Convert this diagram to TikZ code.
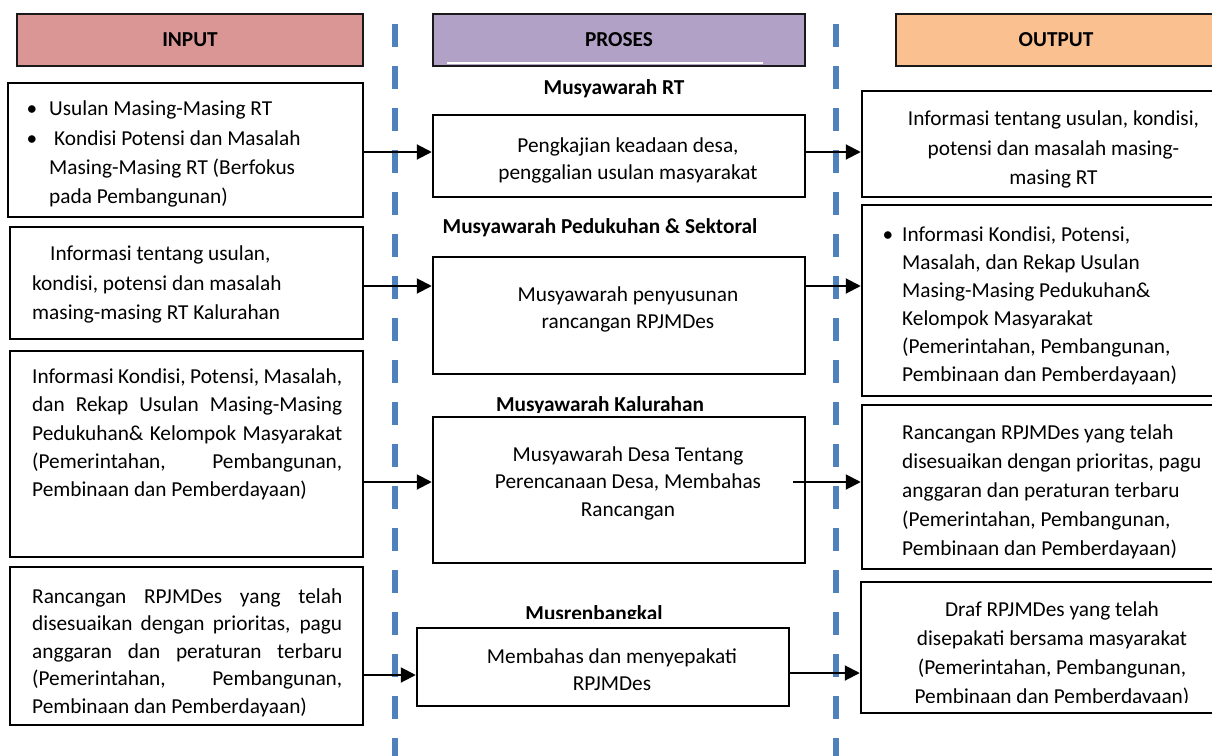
\documentclass[tikz,border=0pt]{standalone}
\usepackage{fontspec}
\setmainfont{Carlito}
\usetikzlibrary{arrows.meta}
\definecolor{inpc}{HTML}{D99694}
\definecolor{proc}{HTML}{B2A1C7}
\definecolor{outc}{HTML}{FAC090}
\definecolor{dashc}{HTML}{4F81BD}
\begin{document}
\begin{tikzpicture}[x=1pt,y=-1pt,
  box/.style={draw=black, line width=2.5pt, fill=white, inner sep=0pt, rectangle},
  hdr/.style={draw=black!90, line width=2.5pt, inner sep=0pt, rectangle, font=\fontsize{21.3}{25}\selectfont\bfseries},
  txt/.style={inner sep=0pt, yshift=-6.5pt, font=\fontsize{21.3}{#1}\selectfont, execute at begin node=\strut},
  lbl/.style={inner sep=0pt, anchor=base, font=\fontsize{21.3}{25}\selectfont\bfseries},
  conn/.style={line width=2pt, -{Triangle[length=15pt,width=15pt]}},
  sepline/.style={dashc, line width=6pt, dash pattern=on 23pt off 19pt}
]
\clip (0,0) rectangle (1212,755);
\fill[white] (0,0) rectangle (1212,755);

% dashed separators
\coordinate (s1t) at (395,24);
\coordinate (s1b) at (395,760);
\coordinate (s2t) at (836,24);
\coordinate (s2b) at (836,760);
\draw[sepline] (s1t) -- (s1b);
\draw[sepline] (s2t) -- (s2b);

% headers
\node[hdr, fill=inpc, minimum width=346pt, minimum height=52pt] (hin) at (190,40) {INPUT};
\node[hdr, fill=proc, minimum width=372pt, minimum height=52pt] (hpr) at (619,40) {PROSES};
\node[hdr, fill=outc, minimum width=320pt, minimum height=52pt] (hout) at (1056,40) {OUTPUT};
\coordinate (wl1) at (447,62.5);
\coordinate (wl2) at (763,62.5);
\draw[white, line width=2pt] (wl1) -- (wl2);

% left boxes
\node[box, minimum width=355pt, minimum height=134pt] (L1) at (185.5,150) {};
\node[box, minimum width=353pt, minimum height=112pt] (L2) at (186.5,283) {};
\node[box, minimum width=353pt, minimum height=206pt] (L3) at (186.5,454) {};
\node[box, minimum width=353pt, minimum height=158pt] (L4) at (186.5,646) {};
% middle boxes
\node[box, minimum width=372pt, minimum height=82pt] (M1) at (619,156) {};
\node[box, minimum width=372pt, minimum height=117pt] (M2) at (619,315.5) {};
\node[box, minimum width=372pt, minimum height=146pt] (M3) at (619,490) {};
\node[box, minimum width=372pt, minimum height=78pt] (M4) at (603,667) {};
% right boxes
\node[box, minimum width=354pt, minimum height=106pt] (R1) at (1039,144) {};
\node[box, minimum width=354pt, minimum height=191pt] (R2) at (1039,300.5) {};
\node[box, minimum width=354pt, minimum height=164pt] (R3) at (1039,487) {};
\node[box, minimum width=355pt, minimum height=131pt] (R4) at (1038.5,647.5) {};

% stage labels
\node[lbl] (t1) at (614,94) {Musyawarah RT};
\node[lbl] (t2) at (600,233) {Musyawarah Pedukuhan \& Sektoral};
\begin{scope}
\clip (450,380) rectangle (780,412);
\node[lbl] (t3) at (600,411) {Musyawarah Kalurahan};
\end{scope}
\begin{scope}
\clip (450,590) rectangle (780,618.5);
\node[lbl] (t4) at (594,620) {Musrenbangkal};
\end{scope}

% left texts
\node[txt=29.3, anchor=north west, align=left] (xL1) at (49,94.5)
 {\llap{\textbullet\hspace{12pt}}Usulan Masing-Masing RT\\
  \llap{\textbullet\hspace{12pt}}\hspace{5pt}Kondisi Potensi dan Masalah\\
  Masing-Masing RT (Berfokus\\
  pada Pembangunan)};
\node[txt=29.5, anchor=north west, align=left] (xL2) at (32,239.4)
 {\hspace{18pt}Informasi tentang usulan,\\
  kondisi, potensi dan masalah\\
  masing-masing RT Kalurahan};
\node[txt=28.25, anchor=north west, align=left] (xL3) at (32,362.2)
 {\makebox[310pt][s]{Informasi Kondisi, Potensi, Masalah,}\\
  \makebox[310pt][s]{dan Rekap Usulan Masing-Masing}\\
  \makebox[310pt][s]{Pedukuhan\& Kelompok Masyarakat}\\
  \makebox[310pt][s]{(Pemerintahan, Pembangunan,}\\
  Pembinaan dan Pemberdayaan)};
\node[txt=27.5, anchor=north west, align=left] (xL4) at (32,581.75)
 {\makebox[310pt][s]{Rancangan RPJMDes yang telah}\\
  \makebox[310pt][s]{disesuaikan dengan prioritas, pagu}\\
  \makebox[310pt][s]{anggaran dan peraturan terbaru}\\
  \makebox[310pt][s]{(Pemerintahan, Pembangunan,}\\
  Pembinaan dan Pemberdayaan)};

% middle texts
\node[txt=27, anchor=north, align=center] (xM1) at (628,131.1)
 {Pengkajian keadaan desa,\\ penggalian usulan masyarakat};
\node[txt=27, anchor=north, align=center] (xM2) at (628,280.1)
 {Musyawarah penyusunan\\ rancangan RPJMDes};
\node[txt=27.5, anchor=north, align=center] (xM3) at (628,439.75)
 {Musyawarah Desa Tentang\\ Perencanaan Desa, Membahas\\ Rancangan};
\node[txt=27, anchor=north, align=center] (xM4) at (612,642.1)
 {Membahas dan menyepakati\\ RPJMDes};

% right texts
\node[txt=29.5, anchor=north, align=center] (xR1) at (1053.5,104.35)
 {Informasi tentang usulan, kondisi,\\ potensi dan masalah masing-\\ masing RT};
\node[txt=28, anchor=north west, align=left] (xR2) at (902,220.4)
 {\llap{\textbullet\hspace{9pt}}Informasi Kondisi, Potensi,\\
  Masalah, dan Rekap Usulan\\
  Masing-Masing Pedukuhan\&\\
  Kelompok Masyarakat\\
  (Pemerintahan, Pembangunan,\\
  Pembinaan dan Pemberdayaan)};
\node[txt=29, anchor=north west, align=left] (xR3) at (902,417.7)
 {Rancangan RPJMDes yang telah\\
  disesuaikan dengan prioritas, pagu\\
  anggaran dan peraturan terbaru\\
  (Pemerintahan, Pembangunan,\\
  Pembinaan dan Pemberdayaan)};
\begin{scope}
\clip (870,585) rectangle (1210,702.5);
\node[txt=29, anchor=north, align=center] (xR4) at (1052,594.7)
 {Draf RPJMDes yang telah\\ disepakati bersama masyarakat\\ (Pemerintahan, Pembangunan,\\ Pembinaan dan Pemberdayaan)};
\end{scope}

% connectors
\coordinate (a1) at (0,152);
\coordinate (a2) at (0,286);
\coordinate (a3) at (0,482);
\coordinate (a4l) at (0,675);
\coordinate (a4r) at (0,673);
\coordinate (m3out) at (793,482);
\draw[conn] (L1.east |- a1) -- (M1.west |- a1);
\draw[conn] (M1.east |- a1) -- (R1.west |- a1);
\draw[conn] (L2.east |- a2) -- (M2.west |- a2);
\draw[conn] (M2.east |- a2) -- (R2.west |- a2);
\draw[conn] (L3.east |- a3) -- (M3.west |- a3);
\draw[conn] (m3out) -- (R3.west |- m3out);
\draw[conn] (L4.east |- a4l) -- (M4.west |- a4l);
\draw[conn] (M4.east |- a4r) -- (R4.west |- a4r);
\end{tikzpicture}
\end{document}
